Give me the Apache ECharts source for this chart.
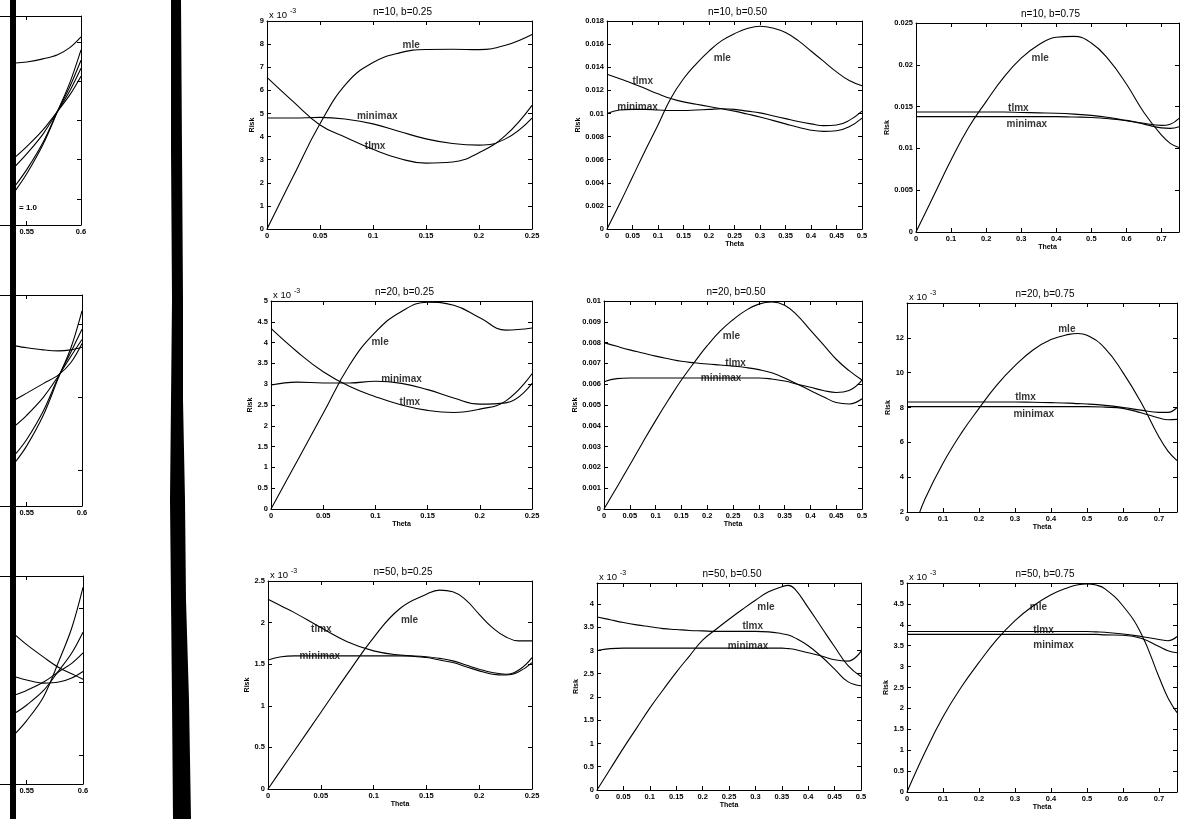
<!DOCTYPE html>
<html><head><meta charset="utf-8">
<script src="https://cdn.jsdelivr.net/npm/echarts@6/dist/echarts.min.js"></script>
<style>html,body{margin:0;padding:0;background:#fff}#c{width:1183px;height:819px}</style>
</head><body><div id="c"></div><script>
// ---------- DATA ----------
// n=10, b=0.25 (values x 10^-3)
const theta_n10_b25 = [0, 0.025, 0.05, 0.075, 0.1, 0.125, 0.15, 0.175, 0.2, 0.225, 0.25];
const mle_n10_b25 = [0, 2.3, 4.55, 6.3, 7.2, 7.62, 7.77, 7.78, 7.76, 7.95, 8.42];
const tlmx_n10_b25 = [6.56, 5.5, 4.5, 3.95, 3.45, 3.05, 2.85, 2.9, 3.3, 4.05, 5.35];
const minimax_n10_b25 = [4.8, 4.8, 4.83, 4.75, 4.55, 4.22, 3.9, 3.7, 3.63, 3.9, 4.8];
const notes_n10_b25 = [['mle', 0.136, 7.95], ['tlmx', 0.102, 3.57], ['minimax', 0.104, 4.86]];

// n=10, b=0.50
const theta_n10_b50 = [0, 0.025, 0.05, 0.075, 0.1, 0.125, 0.15, 0.175, 0.2, 0.225, 0.25, 0.275, 0.3, 0.325, 0.35, 0.375, 0.4, 0.425, 0.45, 0.475, 0.5];
const mle_n10_b50 = [0, 0.0022, 0.0045, 0.0068, 0.0090, 0.0113, 0.0130, 0.0143, 0.0154, 0.0163, 0.0169, 0.01735, 0.01755, 0.0174, 0.0170, 0.0163, 0.0154, 0.0145, 0.0136, 0.01285, 0.0124];
const tlmx_n10_b50 = [0.0134, 0.0130, 0.0126, 0.01215, 0.0117, 0.0113, 0.0110, 0.0108, 0.0106, 0.0104, 0.0102, 0.00995, 0.0097, 0.0094, 0.0091, 0.0088, 0.00855, 0.00845, 0.0085, 0.00885, 0.0096];
const minimax_n10_b50 = [0.0100, 0.0103, 0.01035, 0.01035, 0.0103, 0.01025, 0.01025, 0.0103, 0.01035, 0.0104, 0.01035, 0.0102, 0.01005, 0.0098, 0.00955, 0.0093, 0.0091, 0.00895, 0.0090, 0.0094, 0.0102];
const notes_n10_b50 = [['mle', 0.226, 0.0148], ['tlmx', 0.070, 0.0128], ['minimax', 0.060, 0.0105]];

// n=10, b=0.75
const theta_n10_b75 = [0, 0.05, 0.1, 0.15, 0.2, 0.25, 0.3, 0.35, 0.4, 0.45, 0.5, 0.55, 0.6, 0.65, 0.7, 0.725, 0.75];
const mle_n10_b75 = [0, 0.0043, 0.0086, 0.0125, 0.0156, 0.0185, 0.0208, 0.0224, 0.0233, 0.0234, 0.0226, 0.0206, 0.0177, 0.0143, 0.0116, 0.0106, 0.0101];
const tlmx_n10_b75 = [0.01435, 0.01435, 0.01435, 0.01435, 0.01435, 0.01435, 0.0143, 0.01425, 0.0142, 0.0141, 0.01395, 0.0137, 0.01335, 0.0130, 0.01275, 0.0129, 0.0136];
const minimax_n10_b75 = [0.0138, 0.0138, 0.0138, 0.0138, 0.0138, 0.0138, 0.0138, 0.0138, 0.0138, 0.01375, 0.0137, 0.01355, 0.0133, 0.0129, 0.01245, 0.0124, 0.0126];
const notes_n10_b75 = [['mle', 0.354, 0.0208], ['tlmx', 0.292, 0.0148], ['minimax', 0.316, 0.01284]];

// n=20, b=0.25 (x 10^-3)
const theta_n20_b25 = [0, 0.025, 0.05, 0.075, 0.1, 0.125, 0.15, 0.175, 0.2, 0.225, 0.25];
const mle_n20_b25 = [0, 1.15, 2.3, 3.45, 4.25, 4.75, 4.97, 4.9, 4.6, 4.3, 4.35];
const tlmx_n20_b25 = [4.34, 3.78, 3.3, 2.95, 2.7, 2.5, 2.37, 2.32, 2.4, 2.6, 3.25];
const minimax_n20_b25 = [2.98, 3.05, 3.03, 3.03, 3.07, 3.02, 2.87, 2.67, 2.52, 2.55, 3.02];
const notes_n20_b25 = [['mle', 0.1045, 4.0], ['minimax', 0.125, 3.12], ['tlmx', 0.133, 2.56]];

// n=20, b=0.50
const theta_n20_b50 = [0, 0.025, 0.05, 0.075, 0.1, 0.125, 0.15, 0.175, 0.2, 0.225, 0.25, 0.275, 0.3, 0.325, 0.35, 0.375, 0.4, 0.425, 0.45, 0.475, 0.5];
const mle_n20_b50 = [0, 0.00105, 0.00212, 0.0032, 0.00425, 0.00525, 0.0062, 0.00705, 0.00785, 0.00855, 0.0091, 0.00955, 0.00985, 0.00995, 0.0098, 0.0093, 0.0086, 0.0079, 0.0072, 0.00665, 0.0062];
const tlmx_n20_b50 = [0.0080, 0.00782, 0.00765, 0.0075, 0.00735, 0.00722, 0.0071, 0.00703, 0.00697, 0.00692, 0.00687, 0.0068, 0.0067, 0.00655, 0.0063, 0.0060, 0.0057, 0.0054, 0.00512, 0.00505, 0.0053];
const minimax_n20_b50 = [0.00612, 0.00627, 0.0063, 0.0063, 0.0063, 0.0063, 0.0063, 0.0063, 0.0063, 0.0063, 0.0063, 0.0063, 0.0063, 0.00625, 0.00615, 0.0060, 0.00585, 0.0057, 0.0056, 0.0057, 0.0062];
const notes_n20_b50 = [['mle', 0.247, 0.00832], ['tlmx', 0.255, 0.0070], ['minimax', 0.227, 0.00631]];

// n=20, b=0.75 (x 10^-3)
const theta_n20_b75 = [0, 0.025, 0.05, 0.1, 0.15, 0.2, 0.25, 0.3, 0.35, 0.4, 0.45, 0.475, 0.5, 0.55, 0.6, 0.65, 0.7, 0.725, 0.75];
const mle_n20_b75 = [0, 1.4, 2.75, 4.8, 6.5, 7.95, 9.3, 10.4, 11.3, 11.9, 12.2, 12.25, 12.15, 11.4, 10.0, 8.3, 6.3, 5.5, 4.95];
const tlmx_n20_b75 = [8.32, 8.32, 8.32, 8.32, 8.32, 8.32, 8.32, 8.32, 8.3, 8.28, 8.25, 8.22, 8.2, 8.12, 8.0, 7.85, 7.72, 7.72, 8.0];
const minimax_n20_b75 = [8.05, 8.05, 8.05, 8.05, 8.05, 8.05, 8.05, 8.05, 8.05, 8.05, 8.05, 8.05, 8.05, 8.02, 7.95, 7.7, 7.4, 7.3, 7.32];
const notes_n20_b75 = [['mle', 0.444, 12.47], ['tlmx', 0.329, 8.57], ['minimax', 0.352, 7.6]];

// n=50, b=0.25 (x 10^-3)
const theta_n50_b25 = [0, 0.0125, 0.025, 0.05, 0.075, 0.1, 0.125, 0.15, 0.1625, 0.175, 0.1875, 0.2, 0.2125, 0.225, 0.2375, 0.25];
const mle_n50_b25 = [0, 0.23, 0.46, 0.92, 1.38, 1.82, 2.17, 2.34, 2.39, 2.37, 2.27, 2.1, 1.94, 1.83, 1.78, 1.78];
const tlmx_n50_b25 = [2.28, 2.2, 2.12, 1.94, 1.77, 1.66, 1.61, 1.59, 1.57, 1.54, 1.49, 1.44, 1.4, 1.38, 1.43, 1.58];
const minimax_n50_b25 = [1.55, 1.59, 1.6, 1.6, 1.6, 1.6, 1.6, 1.58, 1.55, 1.52, 1.47, 1.42, 1.38, 1.37, 1.41, 1.52];
const notes_n50_b25 = [['tlmx', 0.0505, 1.92], ['minimax', 0.049, 1.59], ['mle', 0.134, 2.03]];

// n=50, b=0.50 (x 10^-3)
const theta_n50_b50 = [0, 0.025, 0.05, 0.075, 0.1, 0.125, 0.15, 0.175, 0.2, 0.225, 0.25, 0.275, 0.3, 0.325, 0.35, 0.3625, 0.375, 0.4, 0.425, 0.45, 0.475, 0.5];
const mle_n50_b50 = [0, 0.45, 0.9, 1.33, 1.76, 2.15, 2.53, 2.88, 3.22, 3.45, 3.67, 3.88, 4.08, 4.26, 4.37, 4.4, 4.32, 3.92, 3.5, 3.08, 2.68, 2.44];
const tlmx_n50_b50 = [3.72, 3.66, 3.6, 3.55, 3.51, 3.47, 3.45, 3.43, 3.42, 3.41, 3.41, 3.41, 3.41, 3.4, 3.36, 3.33, 3.27, 3.1, 2.87, 2.6, 2.33, 2.24];
const minimax_n50_b50 = [3.0, 3.04, 3.05, 3.05, 3.05, 3.05, 3.05, 3.05, 3.05, 3.05, 3.05, 3.05, 3.05, 3.05, 3.05, 3.04, 3.02, 2.95, 2.88, 2.8, 2.77, 2.98];
const notes_n50_b50 = [['mle', 0.32, 3.93], ['tlmx', 0.295, 3.52], ['minimax', 0.286, 3.1]];

// n=50, b=0.75 (x 10^-3)
const theta_n50_b75 = [0, 0.05, 0.1, 0.15, 0.2, 0.25, 0.3, 0.35, 0.4, 0.45, 0.475, 0.5, 0.525, 0.55, 0.6, 0.65, 0.7, 0.725, 0.75];
const mle_n50_b75 = [0, 0.95, 1.8, 2.5, 3.1, 3.65, 4.1, 4.45, 4.72, 4.9, 4.96, 4.98, 4.95, 4.86, 4.45, 3.8, 2.75, 2.25, 1.9];
const tlmx_n50_b75 = [3.84, 3.84, 3.84, 3.84, 3.84, 3.84, 3.84, 3.84, 3.84, 3.84, 3.84, 3.84, 3.83, 3.82, 3.78, 3.72, 3.65, 3.62, 3.72];
const minimax_n50_b75 = [3.77, 3.77, 3.77, 3.77, 3.77, 3.77, 3.77, 3.77, 3.77, 3.77, 3.77, 3.77, 3.77, 3.76, 3.75, 3.68, 3.48, 3.38, 3.33];
const notes_n50_b75 = [['mle', 0.365, 4.43], ['tlmx', 0.379, 3.88], ['minimax', 0.407, 3.52]];

// partial panels at the left edge (relative units)
const thetaLeft = [0.5394, 0.55, 0.565, 0.5785, 0.59, 0.6];
const left1 = [[7.75, 7.8, 7.95, 8.15, 8.5, 9.0], [3.25, 3.75, 4.55, 5.45, 6.25, 7.12], [2.81, 3.4, 4.35, 5.45, 6.45, 7.5], [1.88, 2.65, 3.95, 5.45, 6.65, 7.88], [1.63, 2.45, 3.85, 5.45, 6.85, 8.38]];
const left2 = [[7.59, 7.5, 7.4, 7.35, 7.4, 7.52], [5.04, 5.35, 5.8, 6.2, 6.8, 7.7], [3.8, 4.3, 5.15, 6.15, 7.1, 7.89], [2.43, 3.15, 4.5, 6.1, 7.3, 8.38], [2.06, 2.85, 4.3, 6.05, 7.5, 9.25]];
const left3 = [[7.18, 6.7, 6.1, 5.6, 5.3, 5.04], [5.16, 5.0, 4.85, 4.9, 5.1, 5.41], [4.28, 4.5, 4.9, 5.4, 5.8, 6.3], [3.4, 3.8, 4.5, 5.45, 6.3, 7.3], [2.4, 3.05, 4.2, 5.9, 7.5, 9.45]];
const leftTicks1 = [1.25, 3.14, 5.01, 6.88, 8.75];
const leftTicks2 = [1.7, 5.16, 8.63];
const leftTicks3 = [1.38, 4.91, 8.44];

// ---------- LAYOUT ----------
const FONT = 'Liberation Sans, Arial, sans-serif';
const panels = [
  {title: 'n=10, b=0.25', th: theta_n10_b25, s: [mle_n10_b25, tlmx_n10_b25, minimax_n10_b25], notes: notes_n10_b25, box: [267, 21, 532, 229], xr: [0, 0.25, 0.05], yr: [0, 9, 1], exp: true, thetaName: false, riskGap: 8},
  {title: 'n=10, b=0.50', th: theta_n10_b50, s: [mle_n10_b50, tlmx_n10_b50, minimax_n10_b50], notes: notes_n10_b50, box: [607, 21, 862, 229], xr: [0, 0.5, 0.05], yr: [0, 0.018, 0.002], exp: false, thetaName: true, thetaGap: 10, riskGap: 23},
  {title: 'n=10, b=0.75', th: theta_n10_b75, s: [mle_n10_b75, tlmx_n10_b75, minimax_n10_b75], notes: notes_n10_b75, box: [916, 23, 1179, 232], xr: [0, 0.75, 0.1], yr: [0, 0.025, 0.005], exp: false, thetaName: true, thetaGap: 10, riskGap: 22, hideXMax: true},
  {title: 'n=20, b=0.25', th: theta_n20_b25, s: [mle_n20_b25, tlmx_n20_b25, minimax_n20_b25], notes: notes_n20_b25, box: [271, 301, 532, 509], xr: [0, 0.25, 0.05], yr: [0, 5, 0.5], exp: true, thetaName: true, thetaGap: 12, riskGap: 12},
  {title: 'n=20, b=0.50', th: theta_n20_b50, s: [mle_n20_b50, tlmx_n20_b50, minimax_n20_b50], notes: notes_n20_b50, box: [604, 301, 862, 509], xr: [0, 0.5, 0.05], yr: [0, 0.01, 0.001], exp: false, thetaName: true, thetaGap: 12, riskGap: 21},
  {title: 'n=20, b=0.75', th: theta_n20_b75, s: [mle_n20_b75, tlmx_n20_b75, minimax_n20_b75], notes: notes_n20_b75, box: [907, 303, 1177, 512], xr: [0, 0.75, 0.1], yr: [2, 14, 2], exp: true, thetaName: true, thetaGap: 12, riskGap: 14, hideXMax: true, hideYMax: true},
  {title: 'n=50, b=0.25', th: theta_n50_b25, s: [mle_n50_b25, tlmx_n50_b25, minimax_n50_b25], notes: notes_n50_b25, box: [268, 581, 532, 789], xr: [0, 0.25, 0.05], yr: [0, 2.5, 0.5], exp: true, thetaName: true, thetaGap: 12, riskGap: 11},
  {title: 'n=50, b=0.50', th: theta_n50_b50, s: [mle_n50_b50, tlmx_n50_b50, minimax_n50_b50], notes: notes_n50_b50, box: [597, 583, 861, 790], xr: [0, 0.5, 0.05], yr: [0, 4.45, 0.5], exp: true, thetaName: true, thetaGap: 11, riskGap: 13, hideYMax: true},
  {title: 'n=50, b=0.75', th: theta_n50_b75, s: [mle_n50_b75, tlmx_n50_b75, minimax_n50_b75], notes: notes_n50_b75, box: [907, 583, 1177, 792], xr: [0, 0.75, 0.1], yr: [0, 5, 0.5], exp: true, thetaName: true, thetaGap: 12, riskGap: 15, hideXMax: true}
];
// partial panels: x range 0.5..0.6, so 0.55 sits at x~27 and 0.6 at the right edge
const leftPanels = [
  {curves: left1, ticks: leftTicks1, left: -27.6, top: 16, width: 108.6, height: 209},
  {curves: left2, ticks: leftTicks2, left: -28.6, top: 295, width: 110.6, height: 211},
  {curves: left3, ticks: leftTicks3, left: -29.6, top: 576, width: 112.6, height: 208}
];

const grid = [], xAxis = [], yAxis = [], series = [], graphic = [];
const lineCol = '#000';
const tickCfg = {show: true, inside: true, length: 4, lineStyle: {color: lineCol, width: 1}};
const axLine = {show: true, onZero: false, lineStyle: {color: lineCol, width: 1}};
const labStyle = {fontSize: 7.5, fontWeight: 'bold', color: '#000', fontFamily: FONT, margin: 3};

panels.forEach(p => {
  const gi = grid.length;
  const [l, t, r, b] = p.box;
  grid.push({left: l, top: t, width: r - l, height: b - t, containLabel: false, outerBoundsMode: 'none'});
  const xi = xAxis.length, yi = yAxis.length;
  xAxis.push({type: 'value', gridIndex: gi, position: 'bottom', min: p.xr[0], max: p.xr[1], interval: p.xr[2],
    axisLine: axLine, axisTick: tickCfg, splitLine: {show: false},
    axisLabel: Object.assign({show: true, showMaxLabel: p.hideXMax ? false : null}, labStyle),
    name: p.thetaName ? 'Theta' : '', nameLocation: 'middle', nameGap: p.thetaGap || 12,
    nameTextStyle: {fontSize: 7, fontWeight: 'bold', color: '#000', fontFamily: FONT}});
  xAxis.push({type: 'value', gridIndex: gi, position: 'top', min: p.xr[0], max: p.xr[1], interval: p.xr[2],
    axisLine: axLine, axisTick: tickCfg, splitLine: {show: false}, axisLabel: {show: false}});
  yAxis.push({type: 'value', gridIndex: gi, position: 'left', min: p.yr[0], max: p.yr[1], interval: p.yr[2],
    axisLine: axLine, axisTick: tickCfg, splitLine: {show: false},
    axisLabel: Object.assign({show: true, showMaxLabel: p.hideYMax ? false : null}, labStyle),
    name: 'Risk', nameLocation: 'middle', nameGap: p.riskGap,
    nameTextStyle: {fontSize: 7, fontWeight: 'bold', color: '#000', fontFamily: FONT}});
  yAxis.push({type: 'value', gridIndex: gi, position: 'right', min: p.yr[0], max: p.yr[1], interval: p.yr[2],
    axisLine: axLine, axisTick: tickCfg, splitLine: {show: false}, axisLabel: {show: false}});
  p.s.forEach(arr => {
    series.push({type: 'line', xAxisIndex: xi, yAxisIndex: yi, data: p.th.map((v, i) => [v, arr[i]]),
      showSymbol: false, symbol: 'none', smooth: 0.45, clip: true, silent: true,
      lineStyle: {color: lineCol, width: 1.1}});
  });
  series.push({type: 'scatter', xAxisIndex: xi, yAxisIndex: yi, symbolSize: 1, silent: true,
    itemStyle: {color: 'rgba(0,0,0,0)'},
    data: p.notes.map(n => ({name: n[0], value: [n[1], n[2]]})),
    label: {show: true, position: 'inside', formatter: '{b}', fontSize: 10, fontWeight: 'bold', color: '#000', fontFamily: FONT}});
  graphic.push({type: 'text', x: (l + r) / 2 + 3, y: t - 9, z: 50,
    style: {text: p.title, fontSize: 10, fontFamily: FONT, fill: '#000', align: 'center', verticalAlign: 'middle'}});
  if (p.exp) {
    graphic.push({type: 'text', x: l + 2, y: t - 6, z: 50,
      style: {text: 'x 10', fontSize: 9.5, fontFamily: FONT, fill: '#000', align: 'left', verticalAlign: 'middle'}});
    graphic.push({type: 'text', x: l + 23, y: t - 10, z: 50,
      style: {text: '-3', fontSize: 7, fontFamily: FONT, fill: '#000', align: 'left', verticalAlign: 'middle'}});
  }
});

leftPanels.forEach(lp => {
  const gi = grid.length;
  grid.push({left: lp.left, top: lp.top, width: lp.width, height: lp.height, containLabel: false, outerBoundsMode: 'none'});
  const xi = xAxis.length, yi = yAxis.length;
  xAxis.push({type: 'value', gridIndex: gi, position: 'bottom', min: 0.5, max: 0.6, interval: 0.05,
    axisLine: axLine, axisTick: tickCfg, splitLine: {show: false},
    axisLabel: Object.assign({show: true, showMinLabel: false}, labStyle)});
  xAxis.push({type: 'value', gridIndex: gi, position: 'top', min: 0.5, max: 0.6, interval: 0.05,
    axisLine: axLine, axisTick: tickCfg, splitLine: {show: false}, axisLabel: {show: false}});
  yAxis.push({type: 'value', gridIndex: gi, position: 'left', min: 0, max: 10, interval: 1,
    axisLine: axLine, axisTick: {show: false}, splitLine: {show: false}, axisLabel: {show: false}});
  yAxis.push({type: 'value', gridIndex: gi, position: 'right', min: 0, max: 10,
    axisLine: axLine, axisTick: Object.assign({}, tickCfg, {customValues: lp.ticks}), splitLine: {show: false}, axisLabel: {show: false}});
  lp.curves.forEach(arr => {
    series.push({type: 'line', xAxisIndex: xi, yAxisIndex: yi, data: thetaLeft.map((v, i) => [v, arr[i]]),
      showSymbol: false, symbol: 'none', smooth: 0.35, clip: true, silent: true,
      lineStyle: {color: lineCol, width: 1.1}});
  });
});

graphic.push({type: 'text', x: 19, y: 208, z: 50,
  style: {text: '= 1.0', fontSize: 8, fontWeight: 'bold', fontFamily: FONT, fill: '#000', align: 'left', verticalAlign: 'middle'}});
// scanner shadows (page edge and binding)
graphic.push({type: 'rect', z: 100, shape: {x: 10, y: 0, width: 6, height: 819}, style: {fill: '#000'}});
graphic.push({type: 'polygon', z: 100, shape: {points: [[171, 0], [181, 0], [182, 150], [183, 300], [183, 400], [185, 500], [186, 600], [189, 700], [191, 819], [173, 819], [172, 700], [171, 600], [170, 500], [171, 400], [172, 300], [171, 150]]}, style: {fill: '#000'}});

const chart = echarts.init(document.getElementById('c'), null, {renderer: 'canvas'});
chart.setOption({backgroundColor: '#fff', animation: false, grid, xAxis, yAxis, series, graphic});
</script></body></html>
